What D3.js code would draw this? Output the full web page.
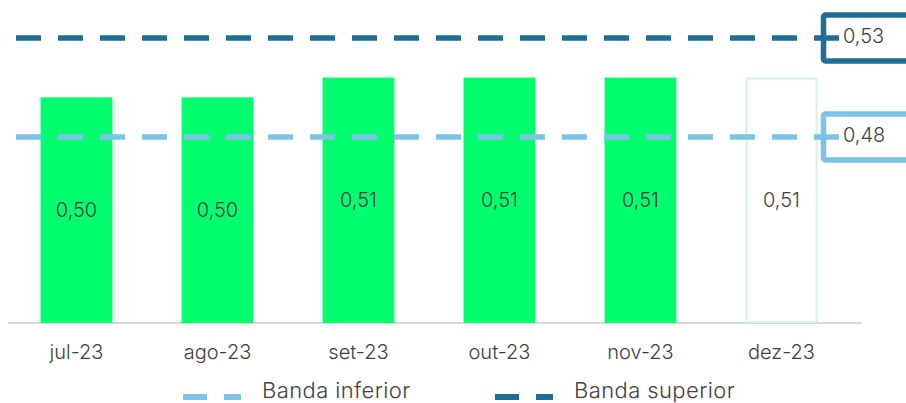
<!DOCTYPE html>
<html>
<head>
<meta charset="utf-8">
<script src="https://cdn.jsdelivr.net/npm/d3@7"></script>
<style>
  html, body { margin: 0; padding: 0; background: #ffffff; }
  svg { display: block; font-family: Inter, "Open Sans", sans-serif; font-weight: 300; }
</style>
</head>
<body>
<svg id="chart" width="906" height="403"></svg>
<script>
// Monthly values (the last month is a projection, drawn as an outline)
const months = ["jul-23", "ago-23", "set-23", "out-23", "nov-23", "dez-23"];
const values = [0.50, 0.50, 0.51, 0.51, 0.51, 0.51];
const projected = [false, false, false, false, false, true];

// Band limits
const bandNames = ["Banda inferior", "Banda superior"];
const bandValues = [0.48, 0.53];
const bandColors = ["#7cc3e6", "#1f6e95"];

const fmt = v => d3.format(".2f")(v).replace(".", ",");

const svg = d3.select("#chart");
const textColor = "#404040";

const x = d3.scaleBand()
  .domain(months)
  .range([6, 852])
  .paddingInner(0.49)
  .paddingOuter(0.245);

const y = d3.scaleLinear()
  .domain([0.386, 0.53])
  .range([323, 38]);

// Baseline
svg.append("line")
  .attr("x1", 8).attr("x2", 862)
  .attr("y1", y(0.386)).attr("y2", y(0.386))
  .attr("stroke", "#d9d9d9").attr("stroke-width", 2);

// Bars
const bars = svg.append("g");
months.forEach((m, i) => {
  const top = y(values[i]);
  if (projected[i]) {
    bars.append("rect")
      .attr("x", x(m) + 1).attr("y", top + 1)
      .attr("width", x.bandwidth() - 2).attr("height", y(0.386) - top - 2)
      .attr("fill", "none").attr("stroke", "#d3f3e1").attr("stroke-width", 2);
  } else {
    bars.append("rect")
      .attr("x", x(m)).attr("y", top)
      .attr("width", x.bandwidth()).attr("height", y(0.386) - top)
      .attr("fill", "#00ff6e");
  }
  bars.append("text")
    .attr("x", x(m) + x.bandwidth() / 2)
    .attr("y", (top + y(0.386)) / 2)
    .attr("dy", "0.36em")
    .attr("text-anchor", "middle")
    .attr("font-size", 20)
    .attr("fill", textColor)
    .text(fmt(values[i]));
});

// Category labels
months.forEach(m => {
  svg.append("text")
    .attr("x", x(m) + x.bandwidth() / 2)
    .attr("y", 359)
    .attr("text-anchor", "middle")
    .attr("font-size", 20)
    .attr("fill", textColor)
    .text(m);
});

// Band lines with value boxes on the right
bandValues.forEach((v, i) => {
  const yy = y(v);
  svg.append("line")
    .attr("x1", 16).attr("x2", 839)
    .attr("y1", yy).attr("y2", yy)
    .attr("stroke", bandColors[i]).attr("stroke-width", 5.5)
    .attr("stroke-dasharray", "25,17");
  svg.append("rect")
    .attr("x", 823.5).attr("y", yy - 23)
    .attr("width", 120).attr("height", 46)
    .attr("rx", 2)
    .attr("fill", "none")
    .attr("stroke", bandColors[i]).attr("stroke-width", 5.5);
  svg.append("text")
    .attr("x", 843).attr("y", yy + 5)
    .attr("font-size", 20)
    .attr("fill", textColor)
    .text(fmt(v));
});

// Legend
const legendX = [183, 495];
bandNames.forEach((name, i) => {
  const g = svg.append("g").attr("transform", `translate(${legendX[i]},0)`);
  g.append("line")
    .attr("x1", 0).attr("x2", 58)
    .attr("y1", 397).attr("y2", 397)
    .attr("stroke", bandColors[i]).attr("stroke-width", 6)
    .attr("stroke-dasharray", "24,17");
  g.append("text")
    .attr("x", 79).attr("y", 398)
    .attr("font-size", 22)
    .attr("letter-spacing", 0.4)
    .attr("fill", textColor)
    .text(name);
});
</script>
</body>
</html>
